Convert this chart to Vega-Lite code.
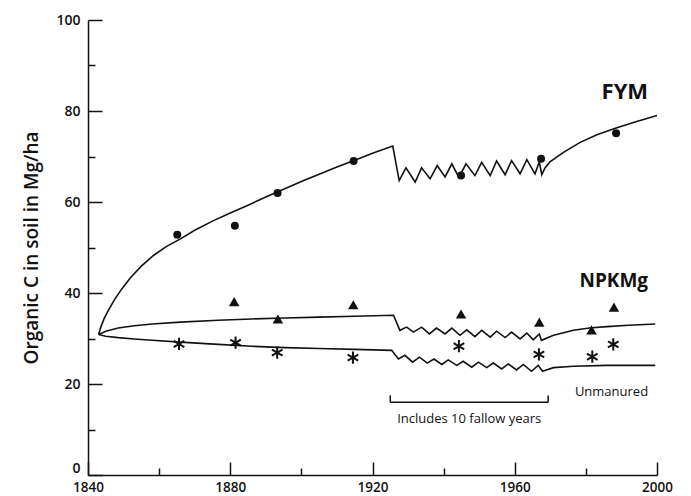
{
  "$schema": "https://vega.github.io/schema/vega-lite/v6.json",
  "width": 569,
  "height": 455,
  "autosize": "none",
  "padding": {"left": 88, "top": 20, "right": 34, "bottom": 21},
  "background": "white",
  "config": {
    "view": {"stroke": null},
    "font": "Open Sans",
    "axis": {"domainColor": "#111", "tickColor": "#111", "labelColor": "#111", "titleColor": "#111", "grid": false, "domainWidth": 1.5, "tickWidth": 1.5}
  },
  "datasets": {
    "curves": [
      {"series": "FYM", "year": 1843, "value": 30.9}, {"series": "FYM", "year": 1843.6, "value": 32.5}, {"series": "FYM", "year": 1844.5, "value": 34.3}, {"series": "FYM", "year": 1845.8, "value": 36.3}, {"series": "FYM", "year": 1847.5, "value": 38.6}, {"series": "FYM", "year": 1849.5, "value": 40.9}, {"series": "FYM", "year": 1852, "value": 43.4}, {"series": "FYM", "year": 1855, "value": 45.9}, {"series": "FYM", "year": 1858.5, "value": 48.3}, {"series": "FYM", "year": 1862, "value": 50.2}, {"series": "FYM", "year": 1866, "value": 51.9}, {"series": "FYM", "year": 1870, "value": 53.8}, {"series": "FYM", "year": 1875, "value": 55.8}, {"series": "FYM", "year": 1880, "value": 57.6}, {"series": "FYM", "year": 1885, "value": 59.3}, {"series": "FYM", "year": 1890, "value": 61.1}, {"series": "FYM", "year": 1895, "value": 62.8}, {"series": "FYM", "year": 1900, "value": 64.5}, {"series": "FYM", "year": 1905, "value": 66.1}, {"series": "FYM", "year": 1910, "value": 67.7}, {"series": "FYM", "year": 1915, "value": 69.2}, {"series": "FYM", "year": 1920, "value": 70.7}, {"series": "FYM", "year": 1925.7, "value": 72.3},
      {"series": "FYM", "year": 1927.5, "value": 64.7}, {"series": "FYM", "year": 1929.4, "value": 67.5}, {"series": "FYM", "year": 1932.0, "value": 64.4}, {"series": "FYM", "year": 1933.8, "value": 67.5}, {"series": "FYM", "year": 1936.2, "value": 65.1}, {"series": "FYM", "year": 1938.2, "value": 68.0}, {"series": "FYM", "year": 1940.4, "value": 65.5}, {"series": "FYM", "year": 1942.3, "value": 68.4}, {"series": "FYM", "year": 1944.3, "value": 65.4}, {"series": "FYM", "year": 1946.3, "value": 68.4}, {"series": "FYM", "year": 1948.8, "value": 65.8}, {"series": "FYM", "year": 1950.7, "value": 68.7}, {"series": "FYM", "year": 1953.1, "value": 65.8}, {"series": "FYM", "year": 1954.9, "value": 69.0}, {"series": "FYM", "year": 1957.3, "value": 66.0}, {"series": "FYM", "year": 1959.1, "value": 69.1}, {"series": "FYM", "year": 1961.5, "value": 66.2}, {"series": "FYM", "year": 1963.4, "value": 69.3}, {"series": "FYM", "year": 1965.7, "value": 66.2}, {"series": "FYM", "year": 1966.9, "value": 68.8}, {"series": "FYM", "year": 1967.6, "value": 66.0},
      {"series": "FYM", "year": 1968.5, "value": 67.5}, {"series": "FYM", "year": 1969.9, "value": 68.8}, {"series": "FYM", "year": 1973.7, "value": 70.9}, {"series": "FYM", "year": 1978.4, "value": 73.1}, {"series": "FYM", "year": 1983.1, "value": 74.8}, {"series": "FYM", "year": 1988.7, "value": 76.3}, {"series": "FYM", "year": 1994.3, "value": 77.7}, {"series": "FYM", "year": 2000, "value": 79.0},
      {"series": "NPKMg", "year": 1843, "value": 30.9}, {"series": "NPKMg", "year": 1845, "value": 31.6}, {"series": "NPKMg", "year": 1848.5, "value": 32.3}, {"series": "NPKMg", "year": 1853, "value": 32.8}, {"series": "NPKMg", "year": 1858, "value": 33.2}, {"series": "NPKMg", "year": 1866, "value": 33.6}, {"series": "NPKMg", "year": 1876.6, "value": 34.0}, {"series": "NPKMg", "year": 1886, "value": 34.3}, {"series": "NPKMg", "year": 1895.4, "value": 34.5}, {"series": "NPKMg", "year": 1905, "value": 34.7}, {"series": "NPKMg", "year": 1915, "value": 34.9}, {"series": "NPKMg", "year": 1925.9, "value": 35.1},
      {"series": "NPKMg", "year": 1927.7, "value": 31.8}, {"series": "NPKMg", "year": 1929.6, "value": 32.5}, {"series": "NPKMg", "year": 1931.5, "value": 31.4}, {"series": "NPKMg", "year": 1933.8, "value": 32.5}, {"series": "NPKMg", "year": 1936.0, "value": 31.0}, {"series": "NPKMg", "year": 1938.0, "value": 32.3}, {"series": "NPKMg", "year": 1940.4, "value": 31.0}, {"series": "NPKMg", "year": 1942.3, "value": 32.3}, {"series": "NPKMg", "year": 1944.6, "value": 30.7}, {"series": "NPKMg", "year": 1946.5, "value": 31.9}, {"series": "NPKMg", "year": 1948.8, "value": 30.4}, {"series": "NPKMg", "year": 1950.7, "value": 31.8}, {"series": "NPKMg", "year": 1953.1, "value": 30.3}, {"series": "NPKMg", "year": 1954.9, "value": 31.6}, {"series": "NPKMg", "year": 1957.3, "value": 30.2}, {"series": "NPKMg", "year": 1959.1, "value": 31.4}, {"series": "NPKMg", "year": 1961.5, "value": 29.9}, {"series": "NPKMg", "year": 1963.4, "value": 31.2}, {"series": "NPKMg", "year": 1965.2, "value": 29.7}, {"series": "NPKMg", "year": 1966.9, "value": 31.0}, {"series": "NPKMg", "year": 1967.5, "value": 29.6},
      {"series": "NPKMg", "year": 1970.9, "value": 30.7}, {"series": "NPKMg", "year": 1976.5, "value": 31.8}, {"series": "NPKMg", "year": 1981, "value": 32.3}, {"series": "NPKMg", "year": 1985.9, "value": 32.6}, {"series": "NPKMg", "year": 1992, "value": 32.9}, {"series": "NPKMg", "year": 1999.5, "value": 33.2},
      {"series": "Unmanured", "year": 1843, "value": 30.9}, {"series": "Unmanured", "year": 1845, "value": 30.5}, {"series": "Unmanured", "year": 1848.5, "value": 30.2}, {"series": "Unmanured", "year": 1853, "value": 29.9}, {"series": "Unmanured", "year": 1858, "value": 29.6}, {"series": "Unmanured", "year": 1866, "value": 29.2}, {"series": "Unmanured", "year": 1876.6, "value": 28.7}, {"series": "Unmanured", "year": 1886, "value": 28.3}, {"series": "Unmanured", "year": 1895.4, "value": 28.0}, {"series": "Unmanured", "year": 1905, "value": 27.8}, {"series": "Unmanured", "year": 1915, "value": 27.6}, {"series": "Unmanured", "year": 1925.4, "value": 27.4},
      {"series": "Unmanured", "year": 1927.3, "value": 25.5}, {"series": "Unmanured", "year": 1929.1, "value": 26.3}, {"series": "Unmanured", "year": 1931.3, "value": 24.8}, {"series": "Unmanured", "year": 1933.2, "value": 25.9}, {"series": "Unmanured", "year": 1935.4, "value": 24.6}, {"series": "Unmanured", "year": 1937.3, "value": 25.5}, {"series": "Unmanured", "year": 1939.5, "value": 24.3}, {"series": "Unmanured", "year": 1941.3, "value": 25.3}, {"series": "Unmanured", "year": 1943.7, "value": 24.1}, {"series": "Unmanured", "year": 1945.5, "value": 25.0}, {"series": "Unmanured", "year": 1947.9, "value": 23.7}, {"series": "Unmanured", "year": 1949.8, "value": 24.8}, {"series": "Unmanured", "year": 1952.1, "value": 23.6}, {"series": "Unmanured", "year": 1954.0, "value": 24.6}, {"series": "Unmanured", "year": 1956.3, "value": 23.3}, {"series": "Unmanured", "year": 1958.2, "value": 24.4}, {"series": "Unmanured", "year": 1960.5, "value": 23.1}, {"series": "Unmanured", "year": 1962.4, "value": 24.3}, {"series": "Unmanured", "year": 1964.7, "value": 22.8}, {"series": "Unmanured", "year": 1966.6, "value": 24.1}, {"series": "Unmanured", "year": 1967.8, "value": 22.8},
      {"series": "Unmanured", "year": 1970.9, "value": 23.6}, {"series": "Unmanured", "year": 1976.5, "value": 23.9}, {"series": "Unmanured", "year": 1985.9, "value": 24.1}, {"series": "Unmanured", "year": 1999.5, "value": 24.1}
    ],
    "obs": [
      {"series": "FYM", "year": 1865.1, "value": 52.8}, {"series": "FYM", "year": 1881.3, "value": 54.8}, {"series": "FYM", "year": 1893.3, "value": 62.0}, {"series": "FYM", "year": 1914.7, "value": 69.0}, {"series": "FYM", "year": 1944.9, "value": 65.8}, {"series": "FYM", "year": 1967.4, "value": 69.5}, {"series": "FYM", "year": 1988.5, "value": 75.1},
      {"series": "NPKMg", "year": 1881.1, "value": 38.1}, {"series": "NPKMg", "year": 1893.4, "value": 34.3}, {"series": "NPKMg", "year": 1914.6, "value": 37.4}, {"series": "NPKMg", "year": 1944.9, "value": 35.4}, {"series": "NPKMg", "year": 1966.9, "value": 33.6}, {"series": "NPKMg", "year": 1981.6, "value": 31.9}, {"series": "NPKMg", "year": 1987.9, "value": 36.9},
      {"series": "Unmanured", "year": 1865.6, "value": 28.8}, {"series": "Unmanured", "year": 1881.5, "value": 29.1}, {"series": "Unmanured", "year": 1893.2, "value": 26.9}, {"series": "Unmanured", "year": 1914.5, "value": 25.8}, {"series": "Unmanured", "year": 1944.3, "value": 28.3}, {"series": "Unmanured", "year": 1966.8, "value": 26.5}, {"series": "Unmanured", "year": 1981.8, "value": 26.0}, {"series": "Unmanured", "year": 1987.7, "value": 28.7}
    ],
    "bracket": [
      {"x": 1925.0, "x2": 1969.4, "y": 16.0, "y2": 16.0},
      {"x": 1925.0, "x2": 1925.0, "y": 16.0, "y2": 17.5},
      {"x": 1969.4, "x2": 1969.4, "y": 16.0, "y2": 17.5}
    ],
    "fymLabel": [{"text": "FYM", "year": 1997.5, "value": 84.1}],
    "npkLabel": [{"text": "NPKMg", "year": 1997.5, "value": 42.7}],
    "unmLabel": [{"text": "Unmanured", "year": 1997.5, "value": 18.2}],
    "fallowLabel": [{"text": "Includes 10 fallow years", "year": 1947.2, "value": 12.4}]
  },
  "layer": [
    {
      "data": {"name": "curves"},
      "mark": {"type": "line", "color": "#111", "strokeWidth": 1.6},
      "encoding": {
        "x": {"field": "year", "type": "quantitative", "scale": {"domain": [1840, 2000], "nice": false, "zero": false},
          "axis": {"title": null, "values": [1840, 1860, 1880, 1900, 1920, 1940, 1960, 1980, 2000], "format": "d",
            "labelExpr": "datum.value % 40 === 0 ? datum.label : ''",
            "tickSize": {"condition": {"test": "datum.value % 40 === 0", "value": -13}, "value": -7},
            "labelPadding": 18, "labelFontSize": 13.5, "labelFontWeight": 600, "labelFlush": false}},
        "y": {"field": "value", "type": "quantitative", "scale": {"domain": [0, 100], "nice": false},
          "axis": {"title": "Organic C in soil in Mg/ha", "values": [0, 10, 20, 30, 40, 50, 60, 70, 80, 90, 100],
            "labelExpr": "datum.value % 20 === 0 ? datum.label : ''",
            "tickSize": {"condition": {"test": "datum.value % 20 === 0", "value": -14}, "value": -7},
            "labelBaseline": {"condition": {"test": "datum.value === 0", "value": "bottom"}, "value": "middle"},
            "labelPadding": 22, "labelFontSize": 14, "labelFontWeight": 600,
            "titleFontSize": 19, "titleFontWeight": 600, "titlePadding": 14}},
        "detail": {"field": "series"}
      }
    },
    {
      "data": {"name": "obs"},
      "transform": [{"filter": "datum.series === 'FYM'"}],
      "mark": {"type": "point", "shape": "circle", "filled": true, "color": "#111", "size": 64, "opacity": 1},
      "encoding": {"x": {"field": "year", "type": "quantitative"}, "y": {"field": "value", "type": "quantitative"}}
    },
    {
      "data": {"name": "obs"},
      "transform": [{"filter": "datum.series === 'NPKMg'"}],
      "mark": {"type": "point", "shape": "triangle-up", "filled": true, "color": "#111", "size": 110, "opacity": 1},
      "encoding": {"x": {"field": "year", "type": "quantitative"}, "y": {"field": "value", "type": "quantitative"}}
    },
    {
      "data": {"name": "obs"},
      "transform": [{"filter": "datum.series === 'Unmanured'"}],
      "mark": {"type": "point", "shape": "M0,-1L0,1M-0.866,-0.5L0.866,0.5M-0.866,0.5L0.866,-0.5", "filled": false, "color": "#111", "size": 150, "strokeWidth": 2, "opacity": 1},
      "encoding": {"x": {"field": "year", "type": "quantitative"}, "y": {"field": "value", "type": "quantitative"}}
    },
    {
      "data": {"name": "bracket"},
      "mark": {"type": "rule", "color": "#111", "strokeWidth": 1.5},
      "encoding": {
        "x": {"field": "x", "type": "quantitative"}, "x2": {"field": "x2"},
        "y": {"field": "y", "type": "quantitative"}, "y2": {"field": "y2"}
      }
    },
    {
      "data": {"name": "fymLabel"},
      "mark": {"type": "text", "align": "right", "baseline": "middle", "fontSize": 22, "fontWeight": "bold", "color": "#111"},
      "encoding": {"x": {"field": "year", "type": "quantitative"}, "y": {"field": "value", "type": "quantitative"}, "text": {"field": "text"}}
    },
    {
      "data": {"name": "npkLabel"},
      "mark": {"type": "text", "align": "right", "baseline": "middle", "fontSize": 19, "fontWeight": "bold", "color": "#111"},
      "encoding": {"x": {"field": "year", "type": "quantitative"}, "y": {"field": "value", "type": "quantitative"}, "text": {"field": "text"}}
    },
    {
      "data": {"name": "unmLabel"},
      "mark": {"type": "text", "align": "right", "baseline": "middle", "fontSize": 13, "color": "#111"},
      "encoding": {"x": {"field": "year", "type": "quantitative"}, "y": {"field": "value", "type": "quantitative"}, "text": {"field": "text"}}
    },
    {
      "data": {"name": "fallowLabel"},
      "mark": {"type": "text", "align": "center", "baseline": "middle", "fontSize": 13, "color": "#111"},
      "encoding": {"x": {"field": "year", "type": "quantitative"}, "y": {"field": "value", "type": "quantitative"}, "text": {"field": "text"}}
    }
  ]
}
